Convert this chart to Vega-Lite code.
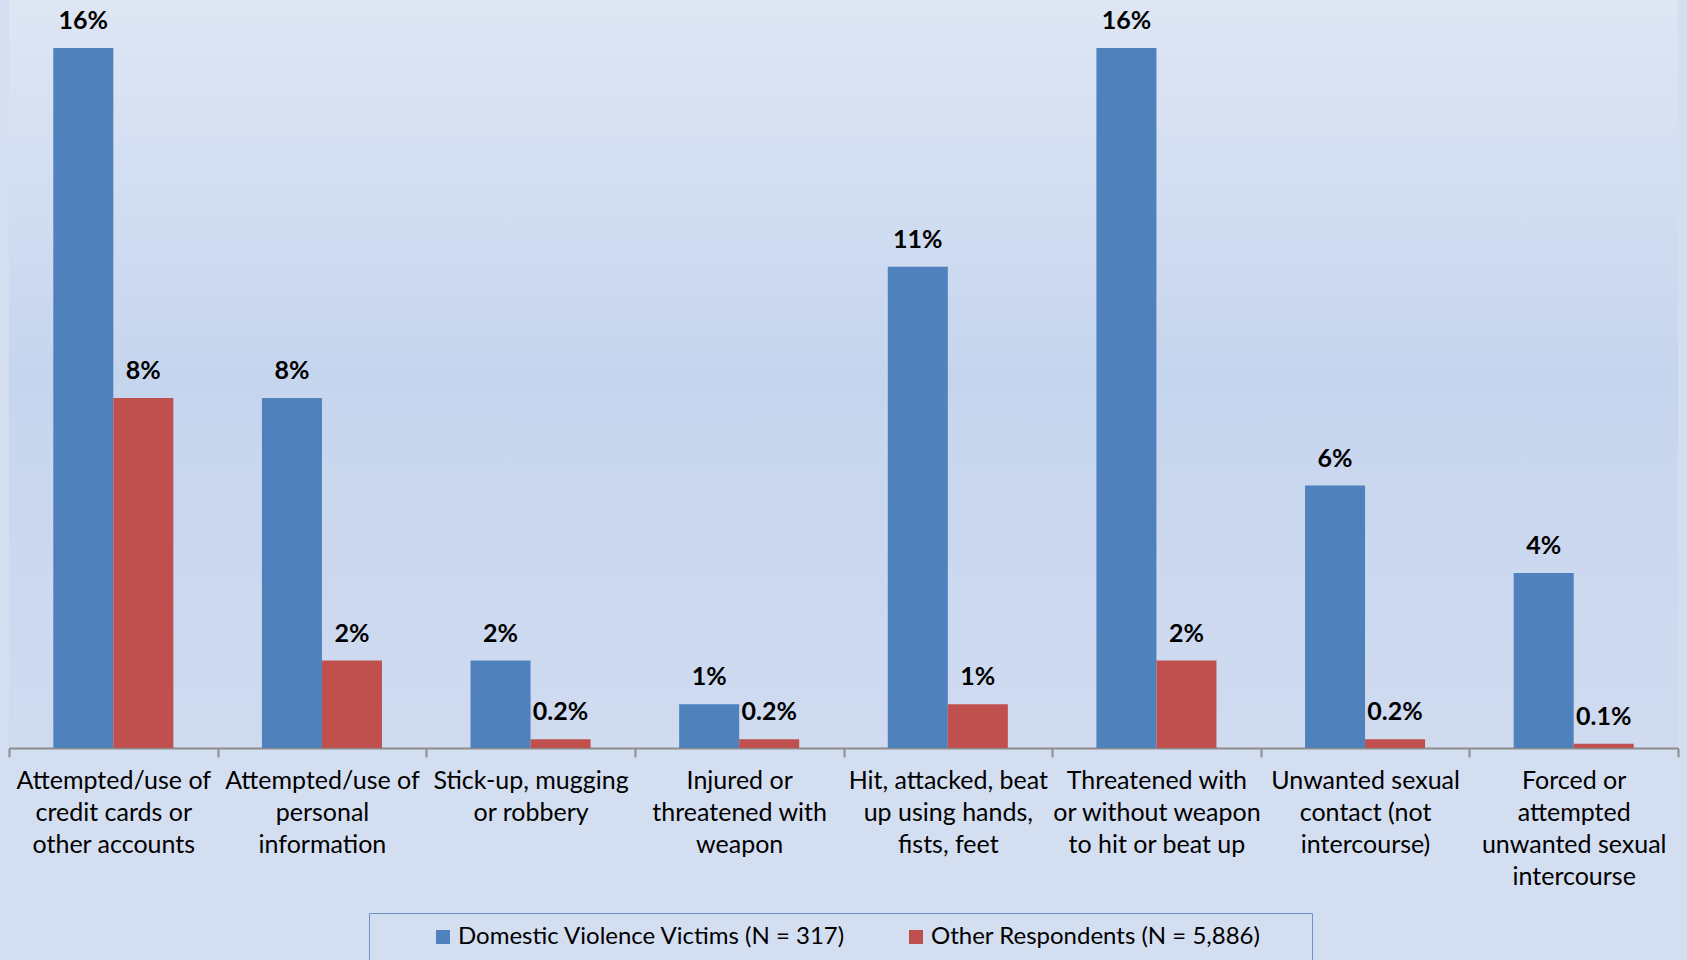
{
  "$schema": "https://vega.github.io/schema/vega-lite/v6.json",
  "width": 1669,
  "height": 748,
  "autosize": {"type": "none"},
  "padding": {"left": 9, "right": 9, "top": 0, "bottom": 212},
  "background": "#D4DEF1",
  "view": {
    "stroke": null,
    "fill": {
      "gradient": "linear", "x1": 0, "y1": 0, "x2": 0, "y2": 1,
      "stops": [
        {"offset": 0, "color": "#DEE6F4"},
        {"offset": 0.5, "color": "#C6D5EE"},
        {"offset": 1, "color": "#D0DBF0"}
      ]
    }
  },
  "data": {
    "values": [
      {"cat": "Attempted/use of|credit cards or|other accounts", "series": "Domestic Violence Victims (N = 317)", "value": 16, "label": "16%"},
      {"cat": "Attempted/use of|credit cards or|other accounts", "series": "Other Respondents (N = 5,886)", "value": 8, "label": "8%"},
      {"cat": "Attempted/use of|personal|information", "series": "Domestic Violence Victims (N = 317)", "value": 8, "label": "8%"},
      {"cat": "Attempted/use of|personal|information", "series": "Other Respondents (N = 5,886)", "value": 2, "label": "2%"},
      {"cat": "Stick-up, mugging|or robbery", "series": "Domestic Violence Victims (N = 317)", "value": 2, "label": "2%"},
      {"cat": "Stick-up, mugging|or robbery", "series": "Other Respondents (N = 5,886)", "value": 0.2, "label": "0.2%"},
      {"cat": "Injured or|threatened with|weapon", "series": "Domestic Violence Victims (N = 317)", "value": 1, "label": "1%"},
      {"cat": "Injured or|threatened with|weapon", "series": "Other Respondents (N = 5,886)", "value": 0.2, "label": "0.2%"},
      {"cat": "Hit, attacked, beat|up using hands,|fists, feet", "series": "Domestic Violence Victims (N = 317)", "value": 11, "label": "11%"},
      {"cat": "Hit, attacked, beat|up using hands,|fists, feet", "series": "Other Respondents (N = 5,886)", "value": 1, "label": "1%"},
      {"cat": "Threatened with|or without weapon|to hit or beat up", "series": "Domestic Violence Victims (N = 317)", "value": 16, "label": "16%"},
      {"cat": "Threatened with|or without weapon|to hit or beat up", "series": "Other Respondents (N = 5,886)", "value": 2, "label": "2%"},
      {"cat": "Unwanted sexual|contact (not|intercourse)", "series": "Domestic Violence Victims (N = 317)", "value": 6, "label": "6%"},
      {"cat": "Unwanted sexual|contact (not|intercourse)", "series": "Other Respondents (N = 5,886)", "value": 0.2, "label": "0.2%"},
      {"cat": "Forced or|attempted|unwanted sexual|intercourse", "series": "Domestic Violence Victims (N = 317)", "value": 4, "label": "4%"},
      {"cat": "Forced or|attempted|unwanted sexual|intercourse", "series": "Other Respondents (N = 5,886)", "value": 0.1, "label": "0.1%"}
    ]
  },
  "encoding": {
    "x": {
      "field": "cat", "type": "nominal", "sort": null,
      "scale": {"paddingInner": 0, "paddingOuter": 0},
      "axis": {
        "title": null,
        "labelExpr": "isValid(datum.value) ? split(datum.value, '|') : ''",
        "labelFont": "Lato",
        "labelFontSize": 25,
        "labelColor": "black",
        "labelLineHeight": 32,
        "labelPadding": 11,
        "labelAngle": 0,
        "labelBaseline": "top",
        "labelLimit": 0,
        "labelOverlap": false,
        "domainColor": "#8C8C8C",
        "domainWidth": 2,
        "tickColor": "#8C8C8C",
        "tickWidth": 2,
        "tickSize": 9,
        "tickBand": "extent",
        "grid": false
      }
    },
    "xOffset": {
      "field": "series", "type": "nominal", "sort": null,
      "scale": {"paddingInner": 0, "paddingOuter": 0.738}
    },
    "y": {
      "field": "value", "type": "quantitative",
      "scale": {"domain": [0, 17.1], "nice": false},
      "axis": null
    },
    "color": {
      "field": "series", "type": "nominal", "sort": null,
      "scale": {"range": ["#4F81BD", "#C0504D"]},
      "legend": {
        "orient": "none",
        "legendX": 360,
        "legendY": 913,
        "direction": "horizontal",
        "title": " ",
        "titleOrient": "right",
        "titlePadding": 40,
        "titleFontSize": 10,
        "symbolType": "square",
        "symbolSize": 196,
        "symbolStrokeWidth": 0,
        "symbolOffset": 50,
        "labelFont": "Lato",
        "labelFontSize": 24,
        "labelColor": "black",
        "labelLimit": 1000,
        "labelOffset": 3,
        "columnPadding": 8,
        "strokeColor": "#6E93C8",
        "padding": 12
      }
    }
  },
  "layer": [
    {"mark": {"type": "bar"}},
    {
      "mark": {"type": "text", "dy": -19, "baseline": "alphabetic", "font": "Lato", "fontWeight": "bold", "fontSize": 25},
      "encoding": {
        "text": {"field": "label"},
        "color": {"value": "black"}
      }
    }
  ]
}
